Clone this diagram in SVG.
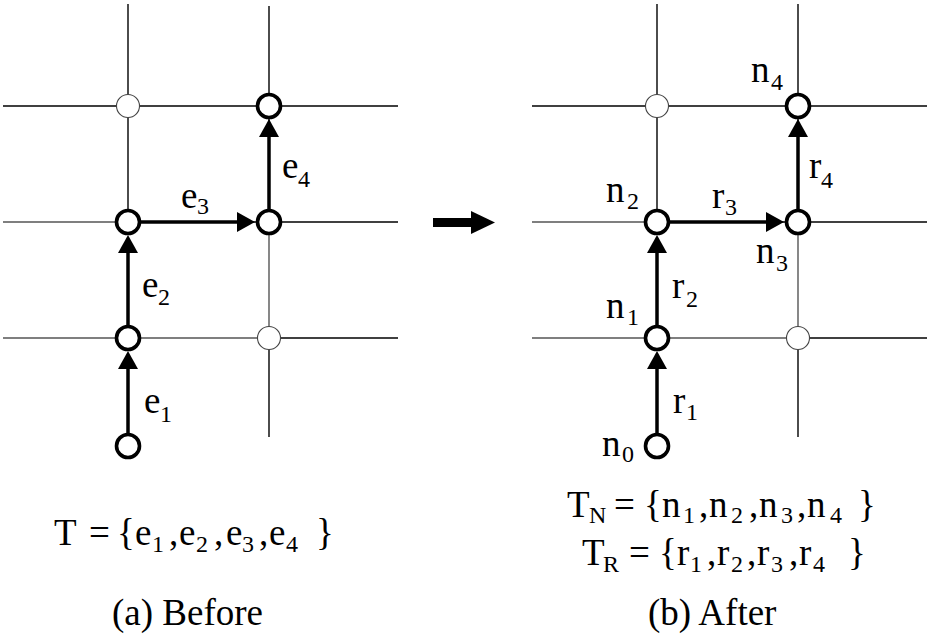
<svg xmlns="http://www.w3.org/2000/svg" width="928" height="635" viewBox="0 0 928 635">
<defs>
<style>
.grid{stroke:#000;stroke-width:1.4;fill:none}
.gridl{stroke:#555;stroke-width:1.4;fill:none}
.edge{stroke:#000;stroke-width:3.5;fill:none;marker-end:url(#ah)}
.nb{fill:#fff;stroke:#000;stroke-width:3.6}
.nl{fill:#fff;stroke:#444;stroke-width:1.1}
.t{font-family:'Liberation Serif',serif;font-size:37px;fill:#000}
.s{font-size:24px}
</style>
<marker id="ah" viewBox="0 0 18 20" refX="10" refY="10" markerWidth="18" markerHeight="20" markerUnits="userSpaceOnUse" orient="auto">
<path d="M0,0 L18,10 L0,20 Z" fill="#000"/>
</marker>
</defs>
<rect width="928" height="635" fill="#fff"/>

<g id="grid-before">
<line class="grid" x1="3" y1="106" x2="398" y2="106"/>
<line class="gridl" x1="3" y1="222" x2="128" y2="222"/>
<line class="grid" x1="128" y1="222" x2="398" y2="222"/>
<line class="gridl" x1="3" y1="338" x2="269" y2="338"/>
<line class="grid" x1="269" y1="338" x2="398" y2="338"/>
<line class="grid" x1="128" y1="4" x2="128" y2="222"/>
<line class="grid" x1="269" y1="6" x2="269" y2="222"/>
<line class="gridl" x1="269" y1="222" x2="269" y2="338"/>
<line class="grid" x1="269" y1="338" x2="269" y2="437"/>
</g>
<g id="grid-after">
<line class="grid" x1="532" y1="106" x2="927" y2="106"/>
<line class="gridl" x1="532" y1="222" x2="657" y2="222"/>
<line class="grid" x1="657" y1="222" x2="927" y2="222"/>
<line class="gridl" x1="532" y1="338" x2="798" y2="338"/>
<line class="grid" x1="798" y1="338" x2="927" y2="338"/>
<line class="grid" x1="657" y1="4" x2="657" y2="222"/>
<line class="grid" x1="798" y1="4" x2="798" y2="222"/>
<line class="gridl" x1="798" y1="222" x2="798" y2="338"/>
<line class="grid" x1="798" y1="338" x2="798" y2="437"/>
</g>

<g id="connectors">
<line class="edge" x1="128" y1="436" x2="128" y2="359"/>
<line class="edge" x1="128" y1="328" x2="128" y2="243"/>
<line class="edge" x1="140" y1="222" x2="247" y2="222"/>
<line class="edge" x1="269" y1="210" x2="269" y2="127"/>
<line class="edge" x1="657" y1="436" x2="657" y2="359"/>
<line class="edge" x1="657" y1="328" x2="657" y2="243"/>
<line class="edge" x1="669" y1="222" x2="776" y2="222"/>
<line class="edge" x1="798" y1="210" x2="798" y2="127"/>
<g id="transform-arrow">
<rect x="433" y="218" width="40" height="9" fill="#000"/>
<path d="M471,211 L495,222.5 L471,234 Z" fill="#000"/>
</g>
</g>

<g id="node-a-0-2"><circle class="nl" cx="128" cy="106" r="11.5"/></g>
<g id="node-a-1-2"><circle class="nb" cx="269" cy="106" r="11.5"/></g>
<g id="node-a-0-1"><circle class="nb" cx="128" cy="222" r="11.5"/></g>
<g id="node-a-1-1"><circle class="nb" cx="269" cy="222" r="11.5"/></g>
<g id="node-a-0-0"><circle class="nb" cx="128" cy="338" r="11.5"/></g>
<g id="node-a-1-0"><circle class="nl" cx="269" cy="338" r="11.5"/></g>
<g id="node-a-start"><circle class="nb" cx="128" cy="446" r="11.5"/></g>

<g id="node-b-0-2"><circle class="nl" cx="657" cy="106" r="11.5"/></g>
<g id="node-b-n4"><circle class="nb" cx="798" cy="106" r="11.5"/></g>
<g id="node-b-n2"><circle class="nb" cx="657" cy="222" r="11.5"/></g>
<g id="node-b-n3"><circle class="nb" cx="798" cy="222" r="11.5"/></g>
<g id="node-b-n1"><circle class="nb" cx="657" cy="338" r="11.5"/></g>
<g id="node-b-1-0"><circle class="nl" cx="798" cy="338" r="11.5"/></g>
<g id="node-b-n0"><circle class="nb" cx="657" cy="446" r="11.5"/></g>

<g id="labels-before">
<text class="t" x="144" y="413">e<tspan class="s" x="160" y="422">1</tspan></text>
<text class="t" x="142" y="297">e<tspan class="s" x="158" y="305">2</tspan></text>
<text class="t" x="181" y="208">e<tspan class="s" x="197" y="214">3</tspan></text>
<text class="t" x="282" y="178">e<tspan class="s" x="298" y="187">4</tspan></text>
</g>
<g id="labels-after">
<text class="t" x="751" y="82">n<tspan class="s" x="771" y="90">4</tspan></text>
<text class="t" x="809" y="178">r<tspan class="s" x="821" y="188">4</tspan></text>
<text class="t" x="606" y="202">n<tspan class="s" x="627" y="209">2</tspan></text>
<text class="t" x="712" y="208">r<tspan class="s" x="725" y="215">3</tspan></text>
<text class="t" x="756" y="263">n<tspan class="s" x="776" y="271">3</tspan></text>
<text class="t" x="672" y="298">r<tspan class="s" x="686" y="307">2</tspan></text>
<text class="t" x="606" y="318">n<tspan class="s" x="627" y="325">1</tspan></text>
<text class="t" x="673" y="413">r<tspan class="s" x="686" y="420">1</tspan></text>
<text class="t" x="602" y="456">n<tspan class="s" x="622" y="462">0</tspan></text>
</g>

<g id="formula-before">
<text class="t"><tspan x="54" y="545">T</tspan><tspan x="89" y="545">=</tspan><tspan x="117" y="545">{</tspan><tspan x="135" y="545">e</tspan><tspan class="s" x="152" y="552">1</tspan><tspan x="169" y="545">,</tspan><tspan x="179" y="545">e</tspan><tspan class="s" x="196" y="552">2</tspan><tspan x="214" y="545">,</tspan><tspan x="226" y="545">e</tspan><tspan class="s" x="242" y="552">3</tspan><tspan x="259" y="545">,</tspan><tspan x="269" y="545">e</tspan><tspan class="s" x="286" y="552">4</tspan><tspan x="316" y="545">}</tspan></text>
</g>
<g id="formula-after">
<text class="t"><tspan x="567" y="517">T</tspan><tspan class="s" x="589" y="523">N</tspan><tspan x="614" y="517">=</tspan><tspan x="644" y="517">{</tspan><tspan x="662" y="517">n</tspan><tspan class="s" x="683" y="523">1</tspan><tspan x="699" y="517">,</tspan><tspan x="709" y="517">n</tspan><tspan class="s" x="731" y="523">2</tspan><tspan x="749" y="517">,</tspan><tspan x="759" y="517">n</tspan><tspan class="s" x="781" y="523">3</tspan><tspan x="797" y="517">,</tspan><tspan x="807" y="517">n</tspan><tspan class="s" x="830" y="523">4</tspan><tspan x="858" y="517">}</tspan></text>
<text class="t"><tspan x="582" y="565">T</tspan><tspan class="s" x="603" y="572">R</tspan><tspan x="629" y="565">=</tspan><tspan x="659" y="565">{</tspan><tspan x="677" y="565">r</tspan><tspan class="s" x="690" y="572">1</tspan><tspan x="707" y="565">,</tspan><tspan x="717" y="565">r</tspan><tspan class="s" x="731" y="572">2</tspan><tspan x="747" y="565">,</tspan><tspan x="757" y="565">r</tspan><tspan class="s" x="771" y="572">3</tspan><tspan x="789" y="565">,</tspan><tspan x="799" y="565">r</tspan><tspan class="s" x="813" y="572">4</tspan><tspan x="848" y="565">}</tspan></text>
</g>

<g id="captions">
<text class="t" x="112" y="625">(a) Before</text>
<text class="t" x="648" y="625">(b) After</text>
</g>
</svg>
